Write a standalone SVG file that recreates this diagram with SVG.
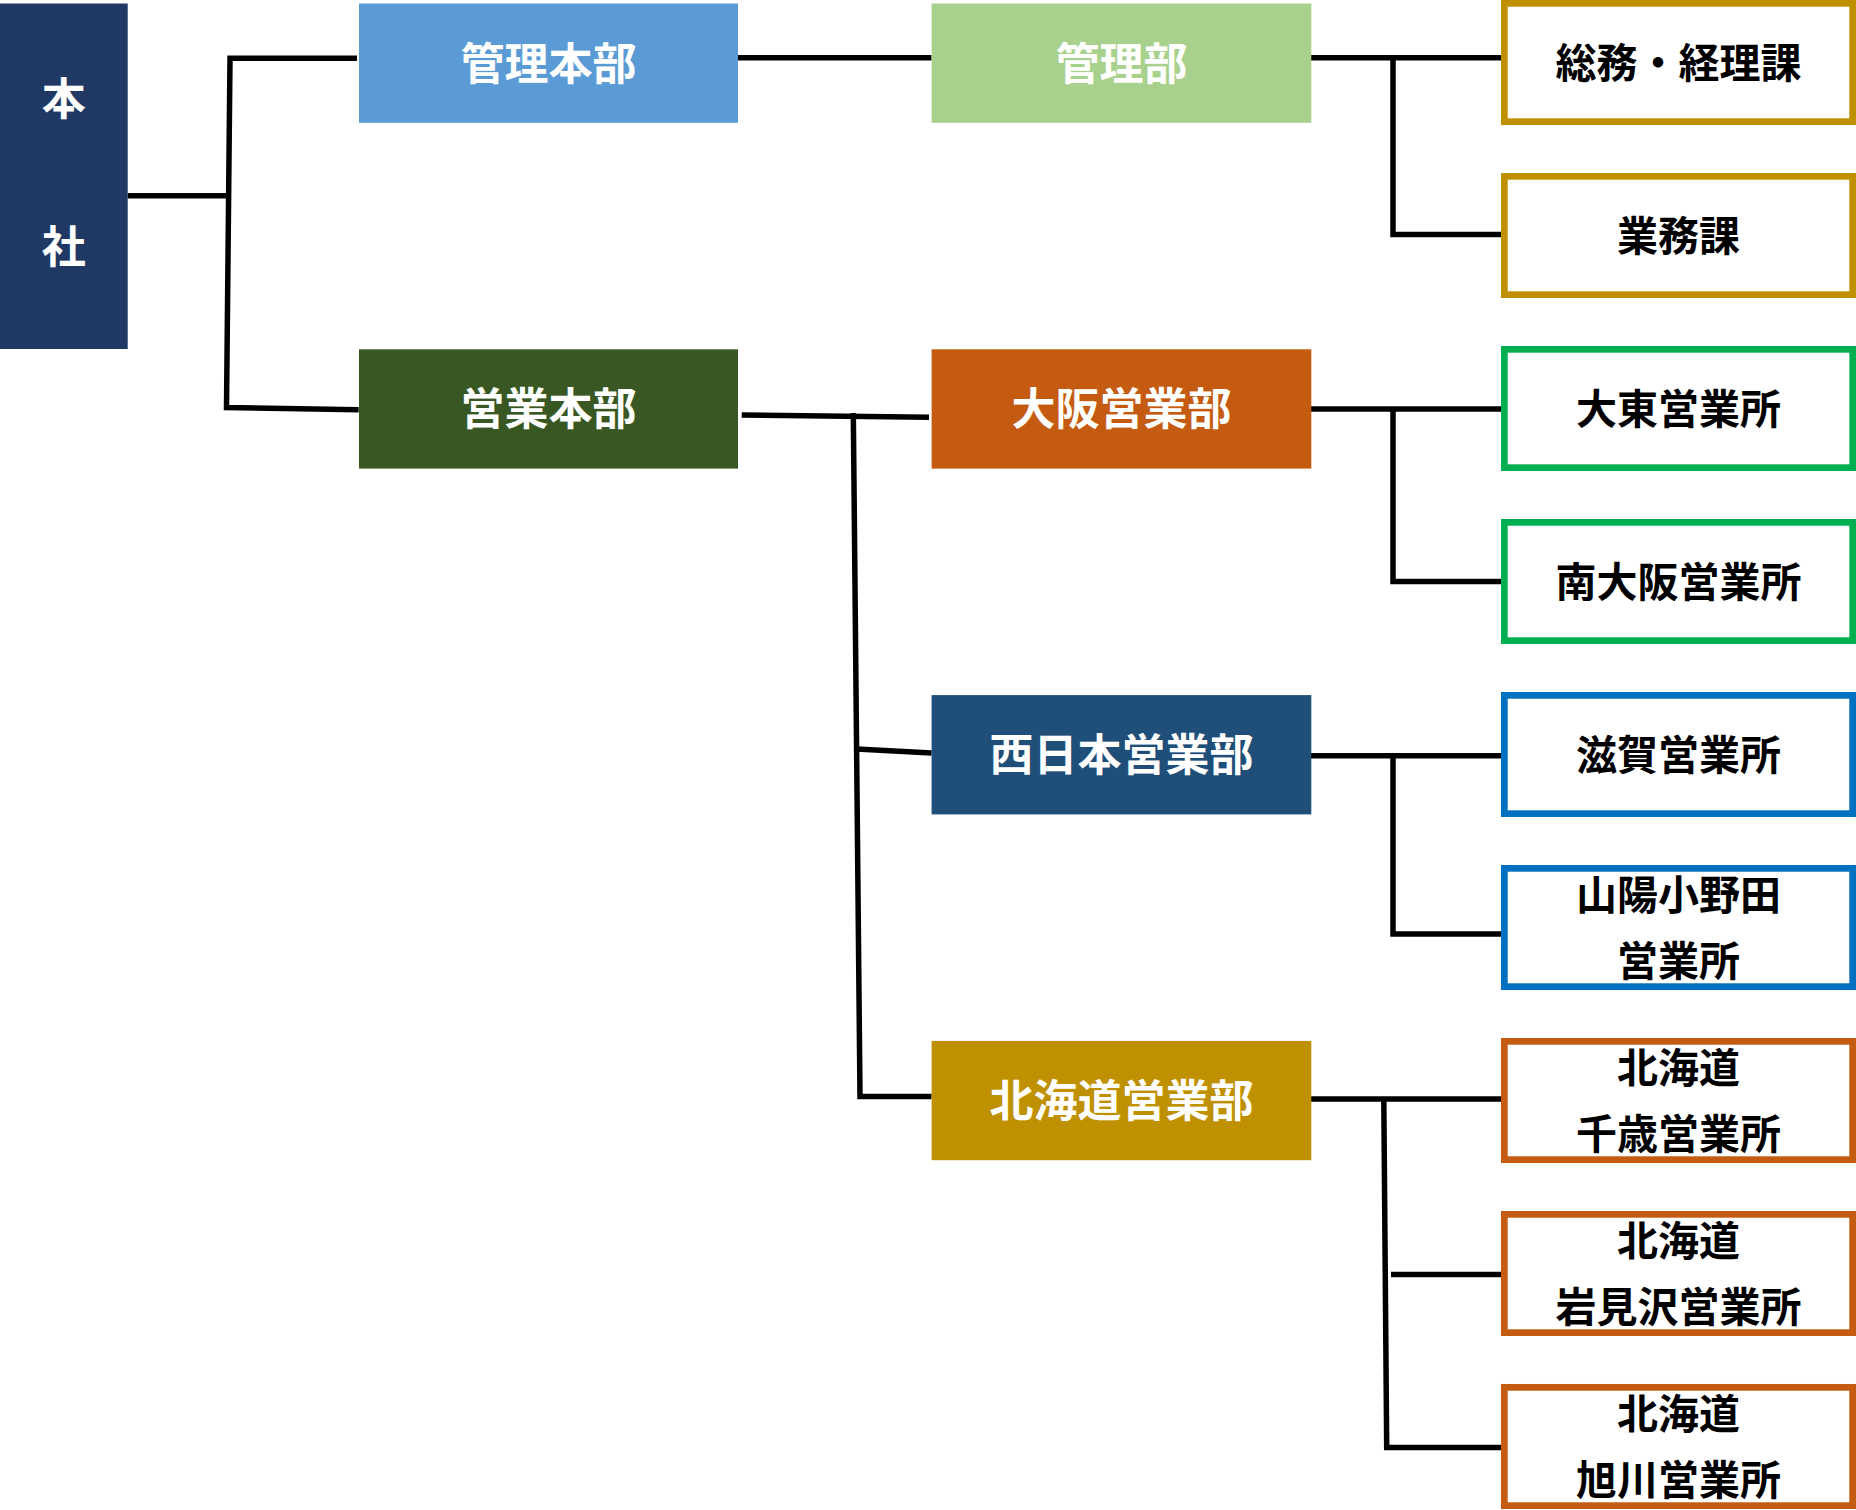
<svg xmlns="http://www.w3.org/2000/svg" width="1856" height="1510" viewBox="0 0 1856 1510">
<style>
.t{font-family:"Noto Sans CJK JP","Noto Sans CJK SC",sans-serif;font-weight:700;text-anchor:middle}
.w{fill:#FFFFFF;font-size:44px}
.b{fill:#000000;font-size:41px}
.ob{fill:#FFFFFF;stroke-width:6.7}
.ln{fill:none;stroke:#000000;stroke-width:5.5;stroke-linejoin:miter;stroke-linecap:butt}
</style>
<rect width="1856" height="1510" fill="#FFFFFF"/>
<g id="connectors">
<path class="ln" d="M127.7 195.8 H230"/>
<path class="ln" d="M357 58.3 H230 L226.5 407.5 L358.7 409.8"/>
<path class="ln" d="M738 57.8 H931.6"/>
<path class="ln" d="M741.7 415 L929 417.3"/>
<path class="ln" d="M853.3 413 L860 1096.5 H931.6"/>
<path class="ln" d="M856.7 749 L931.6 753"/>
<path class="ln" d="M1311 57.8 H1501"/>
<path class="ln" d="M1393 57.8 V234.5 H1501"/>
<path class="ln" d="M1311 409 H1501"/>
<path class="ln" d="M1393 409 V581.5 H1501"/>
<path class="ln" d="M1311 755.7 H1501"/>
<path class="ln" d="M1393 755.7 V934 H1501"/>
<path class="ln" d="M1311 1099 H1501"/>
<path class="ln" d="M1383.8 1099 L1386.7 1447.6 H1501"/>
<path class="ln" d="M1391 1274.5 H1501"/>
</g>
<g id="honsha">
<rect x="0" y="3.5" width="127.7" height="345.5" fill="#203864"/>
<text class="t w" x="63.8" y="114.5">本</text>
<text class="t w" x="63.8" y="263">社</text>
</g>
<g id="kanri-honbu">
<rect x="359" y="3.5" width="379" height="119.3" fill="#5B9BD5"/>
<text class="t w" x="548.5" y="79.5">管理本部</text>
</g>
<g id="eigyo-honbu">
<rect x="359" y="349.3" width="379" height="119.3" fill="#385723"/>
<text class="t w" x="548.5" y="425.3">営業本部</text>
</g>
<g id="kanri-bu">
<rect x="931.6" y="3.5" width="379.7" height="119.3" fill="#A9D18E"/>
<text class="t w" x="1121.5" y="79.5">管理部</text>
</g>
<g id="osaka-eigyobu">
<rect x="931.6" y="349.3" width="379.7" height="119.3" fill="#C55A11"/>
<text class="t w" x="1121.5" y="425.3">大阪営業部</text>
</g>
<g id="nishinihon-eigyobu">
<rect x="931.6" y="695.1" width="379.7" height="119.3" fill="#1F4E79"/>
<text class="t w" x="1121.5" y="771.1">西日本営業部</text>
</g>
<g id="hokkaido-eigyobu">
<rect x="931.6" y="1040.9" width="379.7" height="119.3" fill="#BF9000"/>
<text class="t w" x="1121.5" y="1116.9">北海道営業部</text>
</g>
<g id="somu">
<rect class="ob" x="1504.35" y="3.35" width="348.3" height="118.3" stroke="#BF9000"/>
<text class="t b" x="1678.5" y="77.7">総務・経理課</text>
</g>
<g id="gyomu">
<rect class="ob" x="1504.35" y="176.35" width="348.3" height="118.3" stroke="#BF9000"/>
<text class="t b" x="1678.5" y="250.7">業務課</text>
</g>
<g id="daito">
<rect class="ob" x="1504.35" y="349.35" width="348.3" height="118.3" stroke="#00B050"/>
<text class="t b" x="1678.5" y="423.7">大東営業所</text>
</g>
<g id="minami-osaka">
<rect class="ob" x="1504.35" y="522.35" width="348.3" height="118.3" stroke="#00B050"/>
<text class="t b" x="1678.5" y="596.7">南大阪営業所</text>
</g>
<g id="shiga">
<rect class="ob" x="1504.35" y="695.35" width="348.3" height="118.3" stroke="#0070C0"/>
<text class="t b" x="1678.5" y="769.7">滋賀営業所</text>
</g>
<g id="sanyo-onoda">
<rect class="ob" x="1504.35" y="868.35" width="348.3" height="118.3" stroke="#0070C0"/>
<text class="t b" x="1678.5" y="909.7">山陽小野田</text>
<text class="t b" x="1678.5" y="975.7">営業所</text>
</g>
<g id="chitose">
<rect class="ob" x="1504.35" y="1041.35" width="348.3" height="118.3" stroke="#C55A11"/>
<text class="t b" x="1678.5" y="1082.7">北海道</text>
<text class="t b" x="1678.5" y="1148.7">千歳営業所</text>
</g>
<g id="iwamizawa">
<rect class="ob" x="1504.35" y="1214.35" width="348.3" height="118.3" stroke="#C55A11"/>
<text class="t b" x="1678.5" y="1255.7">北海道</text>
<text class="t b" x="1678.5" y="1321.7">岩見沢営業所</text>
</g>
<g id="asahikawa">
<rect class="ob" x="1504.35" y="1387.35" width="348.3" height="118.3" stroke="#C55A11"/>
<text class="t b" x="1678.5" y="1428.7">北海道</text>
<text class="t b" x="1678.5" y="1494.7">旭川営業所</text>
</g>
</svg>
